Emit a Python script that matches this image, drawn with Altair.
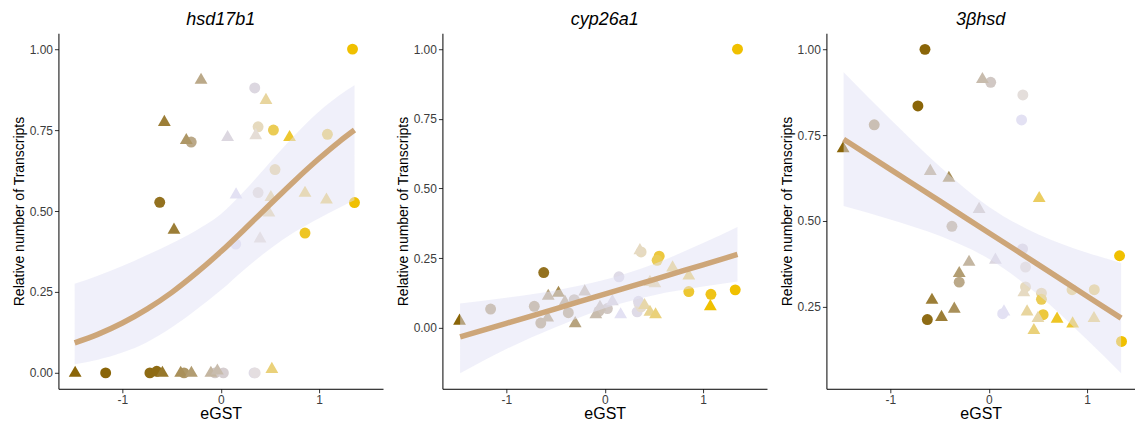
import altair as alt
import pandas as pd

FONT = "Liberation Sans"
Y_TITLE = "Relative number of Transcripts"
X_TITLE = "eGST"
TONE_DOMAIN = [-1, 0, 1]
TONE_RANGE = ["#8A6508", "#E3E1F3", "#F0C000"]
SHAPES = ["circle", "triangle"]

# ---------------- hsd17b1 ----------------
HSD_X = [1.34, 0.346, 0.38, 0.536, -0.30, 1.085, 0.552, 0.38, -0.62, 1.36,
         0.153, 0.857, -1.17, -0.72, -0.65, -0.373, -0.058, 0.027, 0.339, 0.35,
         -0.20, 0.46, -0.573, 0.70, 0.356, 0.07, -0.35, 0.156, 0.51, 0.857,
         1.075, 0.49, -0.475, 0.40, -1.48, -0.593, -0.407, -0.298, -0.10, -0.034, 0.52]
HSD_Y = [1.00, 0.88, 0.76, 0.75, 0.713, 0.737, 0.628, 0.557, 0.527, 0.526,
         0.398, 0.432, 0.0, 0.0, 0.005, 0.0, 0.0, 0.0, 0.0, 0.0,
         0.91, 0.848, 0.78, 0.733, 0.739, 0.733, 0.724, 0.556, 0.548, 0.561,
         0.54, 0.50, 0.447, 0.42, 0.005, 0.005, 0.005, 0.005, 0.005, 0.012, 0.017]
HSD_SHAPE = ["circle"] * 20 + ["triangle"] * 21
HSD_TONE = [1.0, -0.08, 0.22, 0.65, -0.45, 0.6, 0.35, 0.12, -0.9, 1.0,
            0.0, 0.85, -1.0, -0.95, -0.95, -0.6, -0.2, -0.15, -0.05, 0.08,
            -0.45, 0.35, -0.8, 0.8, 0.12, -0.08, -0.6, 0.0, 0.35, 0.5,
            0.5, 0.3, -0.8, 0.12, -1.0, -0.85, -0.65, -0.55, -0.35, -0.3, 0.5]
HSD_FIT_X = [-1.485, -1.25, -1.0, -0.75, -0.5, -0.25, 0.0, 0.25, 0.5, 0.75, 1.0, 1.2, 1.36]
HSD_FIT = [0.093, 0.119, 0.154, 0.197, 0.248, 0.308, 0.374, 0.446, 0.52, 0.593, 0.662, 0.713, 0.75]
HSD_LO = [0.027, 0.041, 0.063, 0.095, 0.14, 0.195, 0.255, 0.322, 0.383, 0.435, 0.478, 0.509, 0.533]
HSD_HI = [0.275, 0.30, 0.33, 0.364, 0.40, 0.44, 0.49, 0.565, 0.65, 0.733, 0.807, 0.856, 0.888]

# ---------------- cyp26a1 ----------------
CYP_X = [1.35, 0.37, 0.554, 0.533, 0.145, -0.62, -1.16, -0.716, -0.65, -0.31,
         -0.37, 0.027, 0.33, 0.348, 0.37, 0.855, 1.08, 1.327, -0.058, 0.344,
         0.358, 0.69, 0.855, 0.51, -0.574, -0.47, -0.203, -1.476, -0.58, -0.405,
         -0.30, -0.09, -0.048, 0.078, 0.162, 0.405, 0.46, 0.517, 1.074, 0.46]
CYP_Y = [1.00, 0.272, 0.257, 0.242, 0.183, 0.198, 0.067, 0.077, 0.017, 0.101,
         0.054, 0.069, 0.057, 0.087, 0.075, 0.13, 0.12, 0.136, 0.06, 0.095,
         0.284, 0.222, 0.193, 0.165, 0.12, 0.131, 0.136, 0.031, 0.042, 0.099,
         0.022, 0.054, 0.081, 0.101, 0.054, 0.087, 0.063, 0.054, 0.083, 0.17]
CYP_SHAPE = ["circle"] * 20 + ["triangle"] * 20
CYP_TONE = [1.0, 0.22, 0.75, 0.65, -0.05, -0.9, -0.5, -0.5, -0.5, -0.3,
            -0.45, -0.2, -0.05, 0.1, 0.15, 0.8, 0.9, 1.0, -0.25, -0.05,
            0.2, 0.5, 0.55, 0.3, -0.5, -0.7, -0.3, -1.0, -0.5, -0.45,
            -0.5, -0.3, -0.25, -0.1, 0.0, 0.3, 0.4, 0.5, 1.0, 0.35]
CYP_FIT_X = [-1.47, -1.0, -0.5, 0.0, 0.5, 1.0, 1.35]
CYP_FIT = [-0.033, 0.016, 0.068, 0.121, 0.173, 0.226, 0.263]
CYP_LO = [-0.163, -0.076, 0.002, 0.070, 0.117, 0.148, 0.166]
CYP_HI = [0.087, 0.108, 0.134, 0.172, 0.229, 0.304, 0.362]

# ---------------- 3βhsd ----------------
BHSD_X = [-0.648, 0.02, 0.347, -0.72, 0.334, -1.164, -0.374, -0.30, 0.344, 0.374,
          0.374, 0.536, 0.536, 0.847, 1.073, 1.33, 1.35, -0.624, 0.142, 0.553,
          -0.064, -1.48, -0.594, -0.405, 0.513, -0.098, -0.2, 0.068, -0.30, 0.357,
          -0.577, -0.48, -0.35, 0.155, 0.39, 0.5, 0.695, 0.853, 1.07, 0.459]
BHSD_Y = [1.00, 0.904, 0.867, 0.835, 0.794, 0.78, 0.484, 0.321, 0.418, 0.365,
          0.307, 0.289, 0.271, 0.299, 0.299, 0.398, 0.148, 0.212, 0.229, 0.226,
          0.918, 0.716, 0.65, 0.63, 0.571, 0.539, 0.385, 0.391, 0.352, 0.296,
          0.274, 0.224, 0.248, 0.24, 0.24, 0.221, 0.219, 0.205, 0.221, 0.186]
BHSD_SHAPE = ["circle"] * 20 + ["triangle"] * 20
BHSD_TONE = [-1.0, -0.2, 0.1, -1.0, 0.0, -0.55, -0.4, -0.45, -0.08, 0.12,
             0.22, 0.35, 0.65, 0.5, 0.5, 1.0, 1.0, -0.95, 0.0, 0.75,
             -0.3, -1.0, -0.45, -0.65, 0.6, -0.2, -0.35, -0.08, -0.55, 0.2,
             -0.8, -0.8, -0.65, 0.0, 0.35, 0.3, 0.85, 0.8, 0.5, 0.5]
BHSD_FIT_X = [-1.475, -1.0, -0.5, 0.0, 0.5, 1.0, 1.346]
BHSD_FIT = [0.738, 0.65, 0.558, 0.465, 0.373, 0.28, 0.216]
BHSD_LO = [0.543, 0.504, 0.456, 0.389, 0.285, 0.153, 0.055]
BHSD_HI = [0.933, 0.796, 0.659, 0.541, 0.461, 0.407, 0.377]


def panel(title, xs, ys, shapes, tones, fx, fy, flo, fhi,
          xdomain, ydomain, yticks, width, interp):
    pts = pd.DataFrame({"x": xs, "y": ys, "shape": shapes, "tone": tones})
    fit = pd.DataFrame({"x": fx, "y": fy, "lo": flo, "hi": fhi})
    xsc = alt.Scale(domain=xdomain, nice=False, zero=False)
    ysc = alt.Scale(domain=ydomain, nice=False, zero=False)
    xax = alt.Axis(values=[-1, 0, 1], labelExpr="datum.value", title=X_TITLE,
                   titleFontSize=16, titlePadding=0)
    yax = alt.Axis(values=yticks, format=".2f", title=Y_TITLE,
                   titleFontSize=14, titlePadding=3)
    X = alt.X("x:Q", scale=xsc, axis=xax)
    Y = alt.Y("y:Q", scale=ysc, axis=yax)
    points = alt.Chart(pts).mark_point(filled=True, opacity=1, clip=True).encode(
        x=X, y=Y,
        shape=alt.Shape("shape:N", scale=alt.Scale(domain=SHAPES, range=["circle", "triangle-up"]), legend=None),
        size=alt.Size("shape:N", scale=alt.Scale(domain=SHAPES, range=[120, 165]), legend=None),
        color=alt.Color("tone:Q", scale=alt.Scale(domain=TONE_DOMAIN, range=TONE_RANGE,
                                                  interpolate="rgb"), legend=None),
    )
    band = alt.Chart(fit).mark_area(color="#E2E2F6", opacity=0.5, interpolate=interp, clip=True).encode(
        x=X, y=alt.Y("lo:Q", scale=ysc, axis=yax), y2="hi:Q")
    line = alt.Chart(fit).mark_line(color="#CDA679", strokeWidth=5.5, interpolate=interp, clip=True).encode(
        x=X, y=Y)
    return alt.layer(points, band, line).properties(
        width=width, height=356,
        title=alt.TitleParams(title, fontStyle="italic", fontSize=18, font=FONT,
                              fontWeight="normal", anchor="middle", offset=4, color="black"))


p1 = panel("hsd17b1", HSD_X, HSD_Y, HSD_SHAPE, HSD_TONE, HSD_FIT_X, HSD_FIT, HSD_LO, HSD_HI,
           [-1.65, 1.65], [-0.049, 1.049], [0, 0.25, 0.5, 0.75, 1.0], 325, "monotone")
p2 = panel("cyp26a1", CYP_X, CYP_Y, CYP_SHAPE, CYP_TONE, CYP_FIT_X, CYP_FIT, CYP_LO, CYP_HI,
           [-1.65, 1.65], [-0.219, 1.057], [0, 0.25, 0.5, 0.75, 1.0], 325, "monotone")
p3 = panel("3βhsd", BHSD_X, BHSD_Y, BHSD_SHAPE, BHSD_TONE, BHSD_FIT_X, BHSD_FIT, BHSD_LO, BHSD_HI,
           [-1.65, 1.487], [0.01, 1.047], [0.25, 0.5, 0.75, 1.0], 309, "monotone")

chart = alt.hconcat(p1, p2, p3, spacing=12.5).properties(
    padding={"left": 3.5, "top": 3, "right": 0, "bottom": 3}
).configure_view(stroke=None).configure_axis(
    grid=False, domainColor="black", domainWidth=1, tickColor="#333333", tickSize=4,
    tickWidth=1, labelPadding=2, labelFont=FONT, labelFontSize=12, labelColor="#3C3C3C",
    titleFont=FONT, titleFontWeight="normal", titleColor="black"
)

chart.save("out.html", embed_options={"renderer": "svg", "actions": False})
